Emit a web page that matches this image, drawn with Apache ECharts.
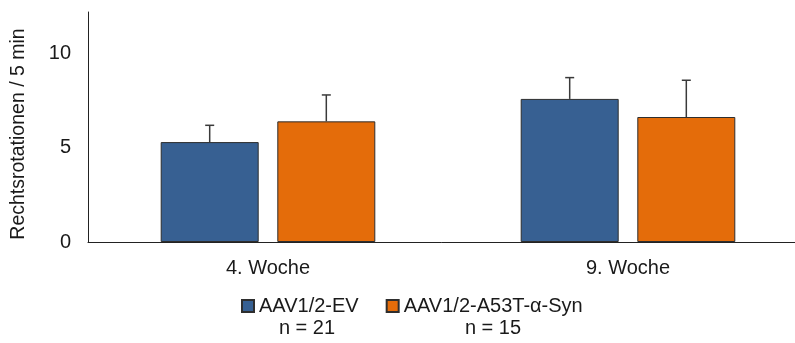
<!DOCTYPE html>
<html>
<head>
<meta charset="utf-8">
<script src="https://cdn.jsdelivr.net/npm/echarts@6/dist/echarts.min.js"></script>
<style>html,body{margin:0;padding:0;background:#fff;}#c{width:795px;height:343px;}</style>
</head>
<body>
<div id="c"></div>
<script>
const categories = ['4. Woche', '9. Woche'];
const seriesNames = ['AAV1/2-EV', 'AAV1/2-A53T-α-Syn'];
const nLabels = ['n = 21', 'n = 15'];
const evMeans = [5.30, 7.59];
const evErrors = [0.89, 1.13];
const synMeans = [6.40, 6.63];
const synErrors = [1.40, 1.95];
const yTicks = [0, 5, 10];

const FONT = 'Arial, "Liberation Sans", sans-serif';
const FS = 20;
const colors = ['#376092', '#E46C0A'];
const BAR_W = 98;
const GAP = 0.19;
const offsets = [-(BAR_W * (1 + GAP)) / 2, (BAR_W * (1 + GAP)) / 2];

function errSeries(means, errs, idx) {
  return {
    type: 'custom',
    name: seriesNames[idx] + ' err',
    z: 5,
    silent: true,
    data: means.map((m, i) => [i, m, errs[i]]),
    encode: { x: 0, y: 1 },
    renderItem: function (params, api) {
      const base = api.coord([api.value(0), api.value(1)]);
      const top = api.coord([api.value(0), api.value(1) + api.value(2)]);
      const x = base[0] + offsets[idx];
      const st = { stroke: '#3a3a3a', lineWidth: 1.5 };
      return {
        type: 'group',
        children: [
          { type: 'line', shape: { x1: x, y1: base[1], x2: x, y2: top[1] }, style: st },
          { type: 'line', shape: { x1: x - 4.5, y1: top[1], x2: x + 4.5, y2: top[1] }, style: st }
        ]
      };
    }
  };
}

const chart = echarts.init(document.getElementById('c'), null, { renderer: 'canvas' });
chart.setOption({
  animation: false,
  backgroundColor: '#fff',
  textStyle: { fontFamily: FONT },
  grid: { left: 88, right: -13, top: 12, bottom: 101, containLabel: false, outerBoundsMode: 'none' },
  legend: {
    data: seriesNames,
    left: 236,
    top: 291,
    icon: 'rect',
    itemWidth: 12,
    itemHeight: 12,
    itemGap: 27,
    textStyle: { fontSize: FS, color: '#1a1a1a', fontFamily: FONT }
  },
  graphic: nLabels.map((t, i) => ({
    type: 'text',
    x: [307, 493][i],
    y: 328,
    style: { text: t, fontSize: FS, fill: '#1a1a1a', fontFamily: FONT, align: 'center', verticalAlign: 'middle' }
  })),
  xAxis: {
    type: 'category',
    data: categories,
    axisLine: { lineStyle: { color: '#222', width: 1 } },
    axisTick: { show: false },
    axisLabel: { fontSize: FS, color: '#1a1a1a', margin: 16, fontFamily: FONT }
  },
  yAxis: {
    type: 'value',
    min: 0,
    max: 12.2,
    interval: 5,
    name: 'Rechtsrotationen / 5 min',
    nameLocation: 'middle',
    nameGap: 59,
    nameTextStyle: { fontSize: 19.5, color: '#1a1a1a', fontFamily: FONT, padding: [0, 14, 0, 0] },
    axisLine: { show: true, lineStyle: { color: '#222', width: 1 } },
    axisTick: { show: false },
    splitLine: { show: false },
    axisLabel: {
      fontSize: FS, color: '#1a1a1a', margin: 17, showMaxLabel: false, fontFamily: FONT,
      formatter: v => (yTicks.indexOf(v) >= 0 ? String(v) : '')
    }
  },
  series: [
    {
      type: 'bar', name: seriesNames[0], data: evMeans, barWidth: BAR_W, barGap: (GAP * 100) + '%',
      itemStyle: { color: colors[0], borderColor: '#2e2e2e', borderWidth: 1 }
    },
    {
      type: 'bar', name: seriesNames[1], data: synMeans, barWidth: BAR_W,
      itemStyle: { color: colors[1], borderColor: '#2e2e2e', borderWidth: 1 }
    },
    errSeries(evMeans, evErrors, 0),
    errSeries(synMeans, synErrors, 1)
  ]
});
</script>
</body>
</html>
